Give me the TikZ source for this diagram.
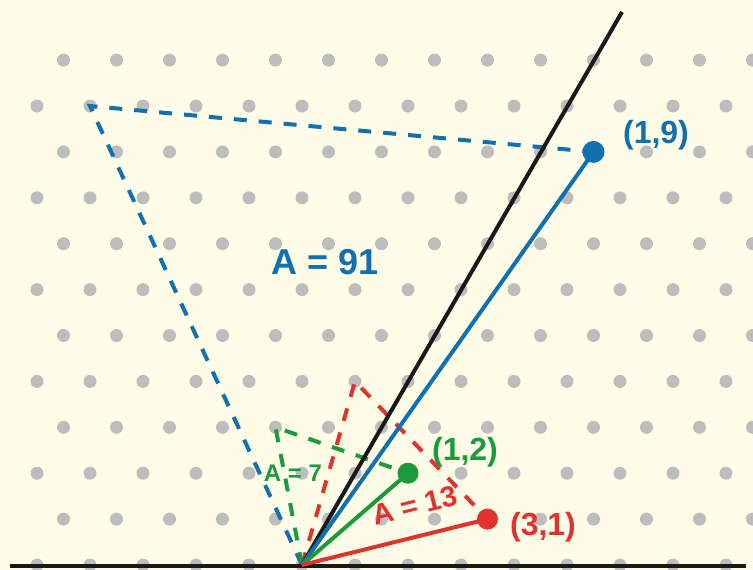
\documentclass[tikz,border=0pt]{standalone}
\usepackage{fontspec}
\setmainfont{Liberation Sans}
\definecolor{bg}{HTML}{FFFDE8}
\definecolor{dotgray}{HTML}{BDBDBD}
\definecolor{myblue}{HTML}{1170B0}
\definecolor{mygreen}{HTML}{1B9A3E}
\definecolor{myred}{HTML}{E2322E}
\begin{document}
\begin{tikzpicture}[x=1pt,y=-1pt,
  vec/.style={line width=4pt},
  dashline/.style={line width=4pt, dash pattern=on 13pt off 12pt},
  endpt/.style={circle, inner sep=0pt, minimum size=#1},
  lab/.style={font=\bfseries\fontsize{32}{32}\selectfont, inner sep=0pt},
  arealab/.style={font=\bfseries\fontsize{#1}{#1}\selectfont, inner sep=0pt}]
\fill[bg] (0,0) rectangle (753,570);
\useasboundingbox (0,0) rectangle (753,570);
\begin{scope}
\clip (0,0) rectangle (753,570);
\begin{scope}[shift={(302,565)}, x={(53pt,0pt)}, y={(26.5pt,45.9pt)}]
  \foreach \b in {0,...,11}{
    \foreach \a in {-17,...,10}{
      \pgfmathtruncatemacro{\ok}{((302+53*\a+26.5*\b)>20)&&((302+53*\a+26.5*\b)<775)}
      \ifnum\ok=1
        \fill[dotgray] (\a,\b) circle[radius=6.5pt];
      \fi
    }
  }
  \coordinate (O) at (0,0);
  \coordinate (P19) at (1,9);
  \coordinate (Q19) at (-9,10);
  \coordinate (P12) at (1,2);
  \coordinate (Q12) at (-2,3);
  \coordinate (P31) at (3,1);
  \coordinate (Q31) at (-1,4);
\end{scope}
\end{scope}
\coordinate (L) at (10,566);
\coordinate (R) at (746,566);
\coordinate (T) at (622,12);
% dashed triangles
\draw[dashline, myblue] (O) -- (Q19) -- (P19);
\draw[dashline, myred] (O) -- (Q31) -- (P31);
\draw[dashline, mygreen] (O) -- (Q12) -- (P12);
% axis lines
\draw[line width=4.5pt, black!90] (L) -- (R);
\draw[line width=4pt, black!90] (O) -- (T);
% vectors
\draw[vec, myblue] (O) -- (P19);
\draw[vec, mygreen] (O) -- (P12);
\draw[vec, myred] (O) -- (P31);
\node[endpt=22pt, fill=myblue] (d19) at (P19) {};
\node[endpt=21pt, fill=mygreen] (d12) at (P12) {};
\node[endpt=21pt, fill=myred] (d31) at (P31) {};
% labels
\node[lab, text=myblue] (l19) at (656,135) {(1,9)};
\node[lab, text=mygreen] (l12) at (465,452) {(1,2)};
\node[lab, text=myred] (l31) at (543,527) {(3,1)};
\node[arealab=36, text=myblue] (a91) at (325,262) {A = 91};
\node[arealab=24, text=mygreen] (a7) at (293,473.5) {A = 7};
\node[arealab=29, text=myred, rotate=14] (a13) at (415,505.5) {A = 13};
\end{tikzpicture}
\end{document}
